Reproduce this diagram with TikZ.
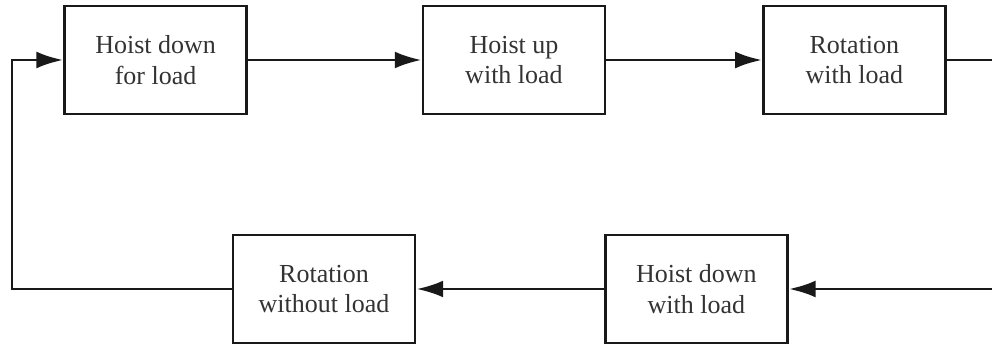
\documentclass[tikz,border=0pt]{standalone}
\usepackage{fontspec}
\setmainfont{Liberation Serif}
\usetikzlibrary{arrows.meta}

\begin{document}
\begin{tikzpicture}[line join=miter, >={Latex[length=19pt,width=12pt]}]
  % ========================================================
  % 0. CANVAS
  % ========================================================
  \useasboundingbox (0,0) rectangle (24.8,8.75);

  \tikzset{
    stagebox/.style={draw=black!90, line width=2.1pt, minimum width=4.55cm,
      minimum height=2.7cm, align=center, text=black!80,
      font=\fontsize{18.5}{21.5}\selectfont},
    flowline/.style={draw=black!90, line width=2.1pt}
  }

  % ========================================================
  % 1. TOP ROW (loaded path)
  % ========================================================
  \node[stagebox] (HoistDownFor) at (3.89,7.25) {Hoist down\\for load};
  \node[stagebox] (HoistUpWith) at (12.85,7.25) {Hoist up\\with load};
  \node[stagebox] (RotWith) at (21.36,7.25) {Rotation\\with load};

  % ========================================================
  % 2. BOTTOM ROW (return path)
  % ========================================================
  \node[stagebox] (RotWithout) at (8.10,1.525) {Rotation\\without load};
  \node[stagebox] (HoistDownWith) at (17.41,1.525) {Hoist down\\with load};

  % ========================================================
  % 3. CONNECTORS
  % ========================================================
  \coordinate (RightTop) at (25.3,7.25);
  \coordinate (RightBot) at (25.3,1.525);
  \coordinate (LeftBot) at (0.30,1.525);
  \coordinate (LeftTop) at (0.30,7.25);

  \draw[flowline, ->] (HoistDownFor) -- (HoistUpWith);
  \draw[flowline, ->] (HoistUpWith) -- (RotWith);
  \draw[flowline, ->] (RotWith) -- (RightTop) -- (RightBot) -- (HoistDownWith);
  \draw[flowline, ->] (HoistDownWith) -- (RotWithout);
  \draw[flowline, ->] (RotWithout) -- (LeftBot) -- (LeftTop) -- (HoistDownFor);

\end{tikzpicture}
\end{document}
